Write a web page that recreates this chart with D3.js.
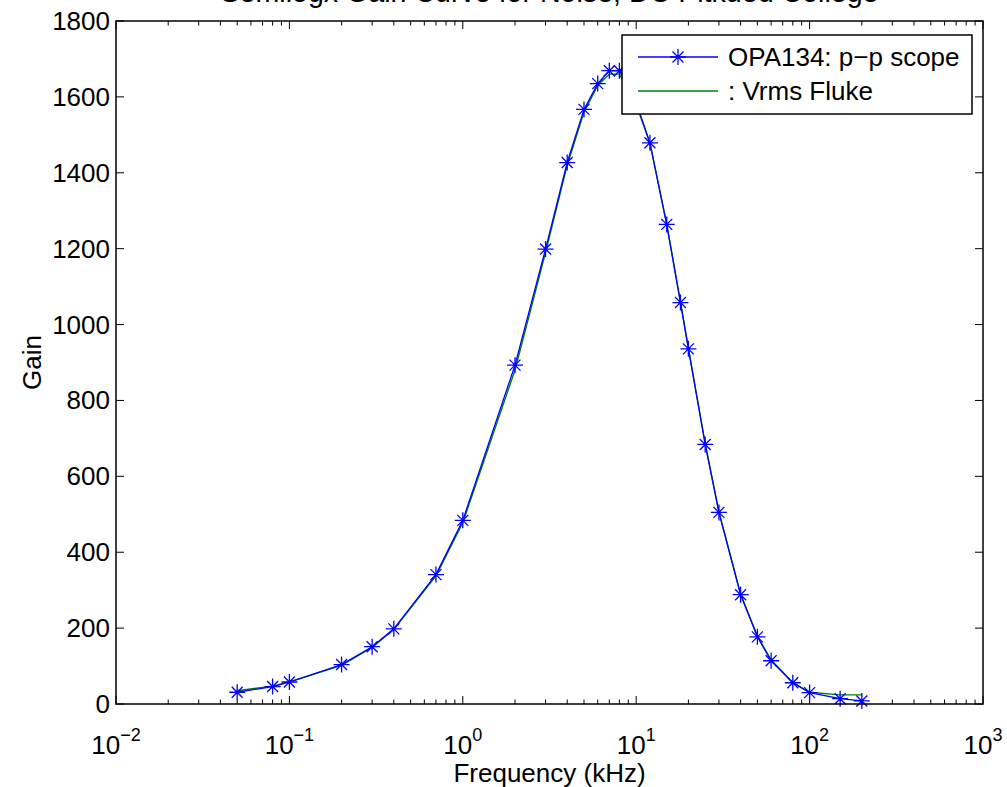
<!DOCTYPE html>
<html>
<head>
<meta charset="utf-8">
<script src="https://cdn.jsdelivr.net/npm/d3@7"></script>
<style>
  body { margin: 0; background: #fff; }
  text { font-family: "Liberation Sans", Arial, Helvetica, sans-serif; fill: #000; }
</style>
</head>
<body>
<svg width="1007" height="787"></svg>
<script>

// frequencies in kHz
var freq = [0.05, 0.08, 0.1, 0.2, 0.3, 0.4, 0.7, 1, 2, 3, 4, 5, 6, 7, 8, 10, 12, 15, 18, 20, 25, 30, 40, 50, 60, 80, 100, 150, 200];

// OPA134: p-p scope
var gainScope = [31, 46, 58, 104, 151, 198, 341, 484, 893, 1199, 1427, 1567, 1635, 1669, 1669, 1585, 1479, 1264, 1058, 936, 684, 505, 288, 177, 114, 56, 30, 14, 8];

// Vrms Fluke
var gainFluke = [35, 47, 58, 102, 149, 196, 338, 478, 880, 1190, 1420, 1560, 1630, 1660, 1660, 1580, 1478, 1264, 1060, 938, 686, 506, 290, 179, 116, 57, 31, 24, 24];

var yTicks = [0, 200, 400, 600, 800, 1000, 1200, 1400, 1600, 1800];
var xDecades = [-2, -1, 0, 1, 2, 3];

var titleText = 'Semilogx Gain Curve for Noise, DC Pitkued College';
var legendNames = ['OPA134: p\u2212p scope', ': Vrms Fluke'];

// plot box (window.top is taken, so prefixed names)
var boxL = 116, boxR = 983, boxT = 21, boxB = 704;
var fs = 26;

var svg = d3.select('svg');

var x = d3.scaleLog().domain([0.01, 1000]).range([boxL, boxR]);
var y = d3.scaleLinear().domain([0, 1800]).range([boxB, boxT]);

// title (sits mostly above the window, like the original)
svg.append('text')
    .attr('x', (boxL + boxR) / 2)
    .attr('y', 2)
    .attr('text-anchor', 'middle')
    .style('font-size', (fs * 1.1) + 'px')
    .text(titleText);

// ticks, drawn inside the box on all four sides
var minor = [];
for (var d = -2; d < 3; d++) {
    for (var m = 2; m < 10; m++) minor.push(m * Math.pow(10, d));
}
var major = xDecades.map(function (e) { return Math.pow(10, e); });

var tickG = svg.append('g').attr('stroke', '#000').attr('stroke-width', 1);

tickG.selectAll('.xmin').data(minor).enter().append('path')
    .attr('d', function (v) {
        var px = x(v);
        return 'M' + px + ',' + boxB + 'v-4.5M' + px + ',' + boxT + 'v4.5';
    });
tickG.selectAll('.xmaj').data(major).enter().append('path')
    .attr('d', function (v) {
        var px = x(v);
        return 'M' + px + ',' + boxB + 'v-8M' + px + ',' + boxT + 'v8';
    });
tickG.selectAll('.ymaj').data(yTicks).enter().append('path')
    .attr('d', function (v) {
        var py = y(v);
        return 'M' + boxL + ',' + py + 'h8M' + boxR + ',' + py + 'h-8';
    });

// y tick labels
svg.selectAll('.ylab').data(yTicks).enter().append('text')
    .attr('x', boxL - 6)
    .attr('y', function (v) { return y(v) + 9; })
    .attr('text-anchor', 'end')
    .style('font-size', fs + 'px')
    .text(function (v) { return v; });

// x tick labels 10^n
var xl = svg.selectAll('.xlab').data(xDecades).enter().append('text')
    .attr('x', function (e) { return x(Math.pow(10, e)); })
    .attr('y', 754)
    .attr('text-anchor', 'middle')
    .style('font-size', fs + 'px');
xl.append('tspan').text('10');
xl.append('tspan')
    .attr('dy', -13)
    .style('font-size', '18px')
    .text(function (e) { return e < 0 ? '\u2212' + (-e) : e; });

// axis labels
svg.append('text')
    .attr('x', (boxL + boxR) / 2)
    .attr('y', 782)
    .attr('text-anchor', 'middle')
    .style('font-size', fs + 'px')
    .text('Frequency (kHz)');

svg.append('text')
    .attr('transform', 'translate(41,' + ((boxT + boxB) / 2) + ') rotate(-90)')
    .attr('text-anchor', 'middle')
    .style('font-size', fs + 'px')
    .text('Gain');

// lines
var line = d3.line()
    .x(function (d) { return x(d[0]); })
    .y(function (d) { return y(d[1]); });

var scopePts = freq.map(function (f, i) { return [f, gainScope[i]]; });
var flukePts = freq.map(function (f, i) { return [f, gainFluke[i]]; });

svg.append('path').datum(flukePts)
    .attr('fill', 'none')
    .attr('stroke', '#008000')
    .attr('stroke-width', 1.4)
    .attr('d', line);

svg.append('path').datum(scopePts)
    .attr('fill', 'none')
    .attr('stroke', '#0000ff')
    .attr('stroke-width', 1.3)
    .attr('d', line);

function star(px, py) {
    var r = 8, s = 5.5;
    return 'M' + (px - r) + ',' + py + 'h' + (2 * r) +
        'M' + px + ',' + (py - r) + 'v' + (2 * r) +
        'M' + (px - s) + ',' + (py - s) + 'l' + (2 * s) + ',' + (2 * s) +
        'M' + (px - s) + ',' + (py + s) + 'l' + (2 * s) + ',' + (-2 * s);
}

svg.append('g').selectAll('path').data(scopePts).enter().append('path')
    .attr('stroke', '#0000ff')
    .attr('stroke-width', 1.3)
    .attr('d', function (d) { return star(x(d[0]), y(d[1])); });

// box
svg.append('rect')
    .attr('x', boxL).attr('y', boxT)
    .attr('width', boxR - boxL).attr('height', boxB - boxT)
    .attr('fill', 'none')
    .attr('stroke', '#000')
    .attr('stroke-width', 1.5);

// legend
var lg = svg.append('g');
lg.append('rect')
    .attr('x', 622).attr('y', 35)
    .attr('width', 350).attr('height', 79)
    .attr('fill', '#fff')
    .attr('stroke', '#000')
    .attr('stroke-width', 1.5);
lg.append('path')
    .attr('d', 'M638,57H718')
    .attr('stroke', '#0000ff').attr('stroke-width', 1.3);
lg.append('path')
    .attr('d', star(678, 57))
    .attr('stroke', '#0000ff').attr('stroke-width', 1.3);
lg.append('path')
    .attr('d', 'M638,91H718')
    .attr('stroke', '#008000').attr('stroke-width', 1.4);
lg.selectAll('.lt').data(legendNames).enter().append('text')
    .attr('x', 728)
    .attr('y', function (d, i) { return 66 + i * 34; })
    .style('font-size', fs + 'px')
    .text(function (d) { return d; });

</script>
</body>
</html>
